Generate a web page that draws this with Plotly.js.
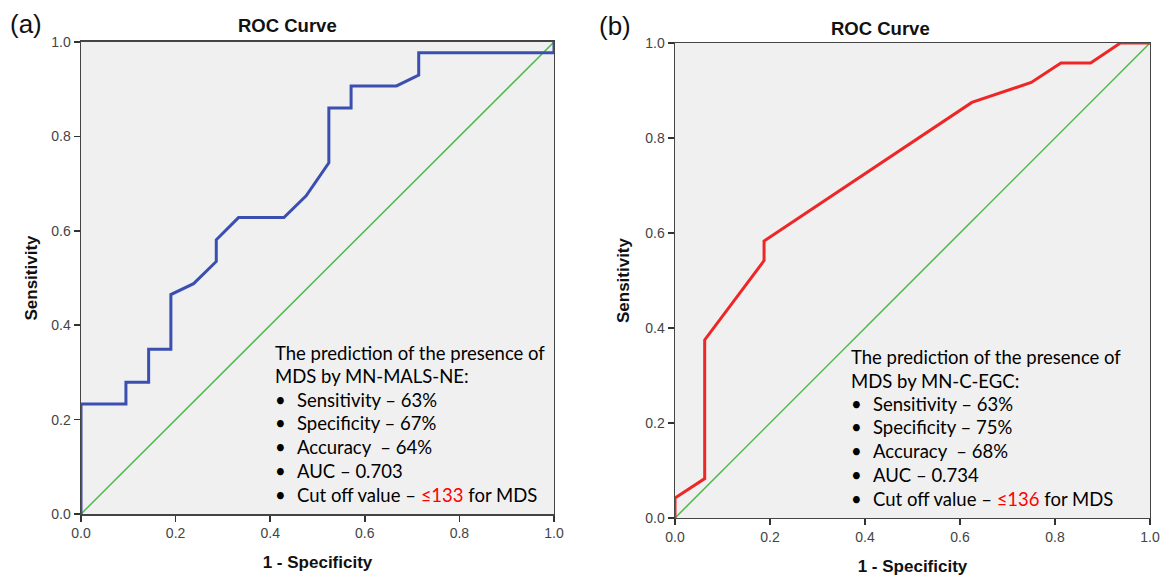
<!DOCTYPE html>
<html><head><meta charset="utf-8">
<script src="https://cdn.plot.ly/plotly-3.0.1.min.js"></script>
<style>html,body{margin:0;padding:0;background:#fff}</style>
</head><body>
<div id="chart" style="width:1163px;height:576px"></div>
<script>
// Panel (a): MN-MALS-NE ROC curve
const rocA_fpr = [0, 0, 0.095, 0.095, 0.143, 0.143, 0.190, 0.190, 0.238, 0.286, 0.286, 0.333, 0.429, 0.476, 0.524, 0.524, 0.571, 0.571, 0.667, 0.714, 0.714, 1.0, 1.0];
const rocA_tpr = [0, 0.233, 0.233, 0.279, 0.279, 0.349, 0.349, 0.465, 0.488, 0.535, 0.581, 0.628, 0.628, 0.674, 0.744, 0.860, 0.860, 0.907, 0.907, 0.930, 0.977, 0.977, 1.0];
// Panel (b): MN-C-EGC ROC curve
const rocB_fpr = [0, 0, 0.0625, 0.0625, 0.1875, 0.1875, 0.625, 0.75, 0.8125, 0.875, 0.9375, 1.0];
const rocB_tpr = [0, 0.042, 0.083, 0.375, 0.542, 0.583, 0.875, 0.917, 0.958, 0.958, 1.0, 1.0];
const refLine = [0, 1];
const tickVals = [0, 0.2, 0.4, 0.6, 0.8, 1.0];
const tickText = ["0.0", "0.2", "0.4", "0.6", "0.8", "1.0"];
const panelLabels = ["(a)", "(b)"];
const plotTitle = "ROC Curve";
const xTitle = "1 - Specificity";
const yTitle = "Sensitivity";
const headA = ["The prediction of the presence of", "MDS by MN-MALS-NE:"];
const bulletsA = ["Sensitivity – 63%", "Specificity – 67%", "Accuracy  – 64%", "AUC – 0.703", "Cut off value – <span style='color:#ff0000'>≤133</span> for MDS"];
const headB = ["The prediction of the presence of", "MDS by MN-C-EGC:"];
const bulletsB = ["Sensitivity – 63%", "Specificity – 75%", "Accuracy  – 68%", "AUC – 0.734", "Cut off value – <span style='color:#ff0000'>≤136</span> for MDS"];
const lineYsA = [0.342, 0.292, 0.2415, 0.192, 0.141, 0.092, 0.040];
const lineYsB = [0.340, 0.289, 0.240, 0.191, 0.141, 0.0905, 0.0406];

const traces = [
  {x: refLine, y: refLine, xaxis: 'x', yaxis: 'y', mode: 'lines', line: {color: '#4cbb4c', width: 1.5}},
  {x: rocA_fpr, y: rocA_tpr, xaxis: 'x', yaxis: 'y', mode: 'lines', line: {color: '#3a4fb0', width: 3}},
  {x: refLine, y: refLine, xaxis: 'x2', yaxis: 'y2', mode: 'lines', line: {color: '#4cbb4c', width: 1.5}},
  {x: rocB_fpr, y: rocB_tpr, xaxis: 'x2', yaxis: 'y2', mode: 'lines', line: {color: '#ee2626', width: 3}}
];

function axis(domain, anchor, title, standoff) {
  return {
    domain: domain, anchor: anchor, range: [0, 1], fixedrange: true,
    tickvals: tickVals, ticktext: tickText, ticks: 'outside', ticklen: 6, tickwidth: 1.5, tickcolor: '#333',
    showline: true, mirror: true, linecolor: '#444', linewidth: 1.5, showgrid: false, zeroline: false,
    tickfont: {family: 'Liberation Sans, Arial', size: 14, color: '#444'},
    title: {text: title, font: {family: 'Liberation Sans, Arial', size: 17, color: '#111', weight: 'bold'}, standoff: standoff},
    automargin: false
  };
}

const annotations = [];
const txtFont = {family: 'Lato, Open Sans, sans-serif', size: 18.5, color: '#000'};
function addText(xr, yr, x0, x1, heads, bullets, ys) {
  heads.forEach((t, i) => annotations.push({xref: xr, yref: yr, x: x0, y: ys[i], text: t, showarrow: false, xanchor: 'left', yanchor: 'middle', font: txtFont}));
  bullets.forEach((t, i) => {
    annotations.push({xref: xr, yref: yr, x: x0, y: ys[i + 2], text: '•', showarrow: false, xanchor: 'left', yanchor: 'middle', font: txtFont});
    annotations.push({xref: xr, yref: yr, x: x1, y: ys[i + 2], text: t, showarrow: false, xanchor: 'left', yanchor: 'middle', font: txtFont});
  });
}
addText('x', 'y', 0.4066, 0.452, headA, bulletsA, lineYsA);
addText('x2', 'y2', 0.367, 0.4126, headB, bulletsB, lineYsB);

const titleFont = {family: 'Liberation Sans, Arial', size: 18.5, color: '#111', weight: 'bold'};
annotations.push({xref: 'x domain', yref: 'paper', x: 0.436, y: 0.955, text: plotTitle, showarrow: false, xanchor: 'center', yanchor: 'middle', font: titleFont});
annotations.push({xref: 'x2 domain', yref: 'paper', x: 0.432, y: 0.950, text: plotTitle, showarrow: false, xanchor: 'center', yanchor: 'middle', font: titleFont});
const labFont = {family: 'Liberation Sans, Arial', size: 26, color: '#111'};
annotations.push({xref: 'paper', yref: 'paper', x: 0.0065, y: 0.958, text: panelLabels[0], showarrow: false, xanchor: 'left', yanchor: 'middle', font: labFont});
annotations.push({xref: 'paper', yref: 'paper', x: 0.513, y: 0.954, text: panelLabels[1], showarrow: false, xanchor: 'left', yanchor: 'middle', font: labFont});

const layout = {
  width: 1163, height: 576, showlegend: false,
  margin: {l: 0, r: 0, t: 0, b: 0},
  paper_bgcolor: '#ffffff', plot_bgcolor: '#f0f0f0',
  xaxis: axis([0.06965, 0.47635], 'y', xTitle, 16),
  yaxis: axis([0.1076, 0.9271], 'x', yTitle, 9),
  xaxis2: axis([0.5804, 0.98882], 'y2', xTitle, 19),
  yaxis2: axis([0.1007, 0.9253], 'x2', yTitle, 11),
  annotations: annotations
};
Plotly.newPlot('chart', traces, layout, {staticPlot: true, displayModeBar: false});
</script>
</body></html>
